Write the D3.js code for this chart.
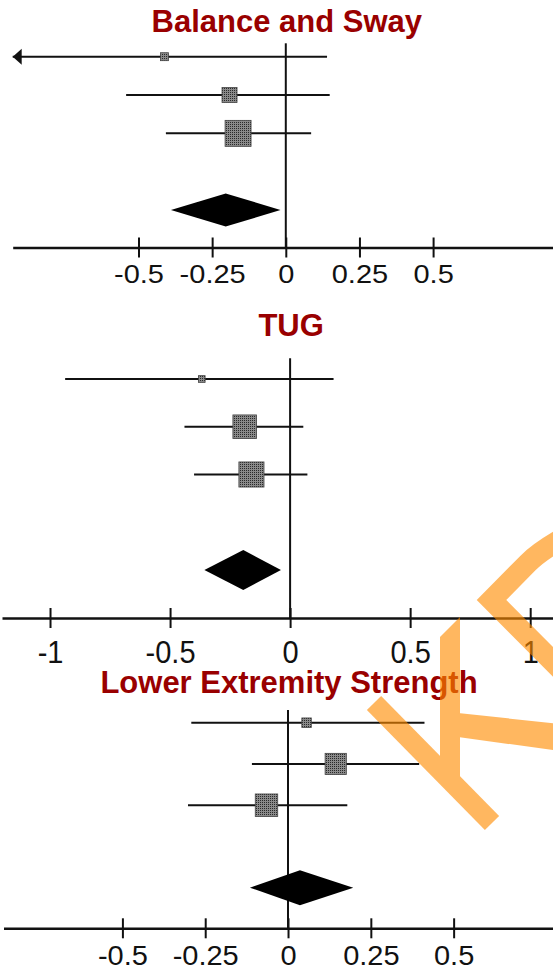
<html>
<title>Forest plots</title>
<script src="https://d3js.org/d3.v7.min.js"></script>
<style>
body { margin: 0; background: #fff; }
svg { display: block; }
text.title { font-family: 'Liberation Sans', Arial, sans-serif; font-weight: bold; font-size: 31px; fill: #990000; text-anchor: middle; }
.axis text { font-family: 'Liberation Sans', Arial, sans-serif; font-size: 29px; fill: #111; }
.axis path, .axis line { stroke: #111; }
</style>
<body>
<div id="chart"></div>
<script>
// panel titles
var titles = ["Balance and Sway", "TUG", "Lower Extremity Strength"];

// Balance and Sway
var balanceEst = [-0.412, -0.191, -0.162];
var balanceLo = [-1.3, -0.542, -0.407];
var balanceHi = [0.14, 0.149, 0.086];
var balanceWeight = [7, 25, 75];
var balancePooled = [-0.39, -0.204, -0.018]; // lo, est, hi

// TUG
var tugEst = [-0.368, -0.189, -0.161];
var tugLo = [-0.937, -0.44, -0.4];
var tugHi = [0.181, 0.055, 0.072];
var tugWeight = [5, 62, 70];
var tugPooled = [-0.357, -0.195, -0.038];

// Lower Extremity Strength
var lesEst = [0.056, 0.144, -0.065];
var lesLo = [-0.292, -0.109, -0.302];
var lesHi = [0.412, 0.396, 0.179];
var lesWeight = [10, 50, 56];
var lesPooled = [-0.115, 0.036, 0.197];

// ticks
var ticksQuarter = [-0.5, -0.25, 0, 0.25, 0.5];
var labelsQuarter = ["-0.5", "-0.25", "0", "0.25", "0.5"];
var ticksHalf = [-1, -0.5, 0, 0.5, 1];
var labelsHalf = ["-1", "-0.5", "0", "0.5", "1"];

var width = 553, height = 970;

var svg = d3.select("#chart").append("svg").attr("width", width).attr("height", height);

var defs = svg.append("defs");
var pat = defs.append("pattern").attr("id", "stip").attr("width", 2).attr("height", 2)
	.attr("patternUnits", "userSpaceOnUse");
pat.append("rect").attr("width", 2).attr("height", 2).attr("fill", "#8a8a8a");
pat.append("rect").attr("width", 1).attr("height", 1).attr("fill", "#2a2a2a");

var sizeScale = d3.scaleSqrt().domain([0, 100]).range([0, 30]);

// layout for each panel
var panels = [
	{ title: titles[0], est: balanceEst, lo: balanceLo, hi: balanceHi, w: balanceWeight, pooled: balancePooled,
	  ticks: ticksQuarter, labels: labelsQuarter,
	  domain: [-0.927, 0.907], range: [12.7, 553],
	  titleY: 31.7, zeroTop: 43.3, rows: [56.7, 210], axisY: 247.5, labelY: 283.3, labelK: 0.88, dH: 16.5 },
	{ title: titles[1], est: tugEst, lo: tugLo, hi: tugHi, w: tugWeight, pooled: tugPooled,
	  ticks: ticksHalf, labels: labelsHalf,
	  domain: [-1.2, 1.095], range: [2, 553],
	  titleY: 335.7, zeroTop: 358.3, rows: [379, 570], axisY: 618, labelY: 663, labelK: 1.08, dH: 20 },
	{ title: titles[2], est: lesEst, lo: lesLo, hi: lesHi, w: lesWeight, pooled: lesPooled,
	  ticks: ticksQuarter, labels: labelsQuarter,
	  domain: [-0.859, 0.8], range: [3.5, 553],
	  titleY: 693.3, zeroTop: 710, rows: [722.7, 887.7], axisY: 928.3, labelY: 965, labelK: 0.96, dH: 17.5 }
];

panels.forEach(function (p) {
	var g = svg.append("g");
	var x = d3.scaleLinear().domain(p.domain).range(p.range);
	var y = d3.scaleLinear().domain([0, 4]).range(p.rows);

	// axis
	var xAxis = d3.axisBottom(x).tickValues(p.ticks).tickSizeOuter(0).tickSizeInner(10)
		.tickFormat(function (d, i) { return p.labels[i]; });
	var ax = g.append("g").attr("class", "axis").attr("transform", "translate(0," + p.axisY + ")").call(xAxis);
	ax.select(".domain").attr("stroke-width", 2.5);
	ax.selectAll(".tick line").attr("y1", -10).attr("y2", 10).attr("stroke-width", 2);
	ax.selectAll(".tick text")
		.attr("dy", 0)
		.attr("y", (p.labelY - p.axisY) / p.labelK)
		.attr("transform", "scale(1," + p.labelK + ")");

	// title
	g.append("text").attr("class", "title").attr("x", x(0) + 1).attr("y", p.titleY).text(p.title);

	// zero line
	g.append("line").attr("x1", x(0)).attr("x2", x(0)).attr("y1", p.zeroTop).attr("y2", p.axisY)
		.attr("stroke", "#111").attr("stroke-width", 2);

	// study rows
	p.est.forEach(function (e, i) {
		var x0 = Math.max(x(p.lo[i]), p.range[0]);
		g.append("line").attr("x1", x0).attr("x2", x(p.hi[i]))
			.attr("y1", y(i)).attr("y2", y(i))
			.attr("stroke", "#111").attr("stroke-width", 2);
		if (x(p.lo[i]) < p.range[0]) {
			g.append("path")
				.attr("d", "M" + x0 + "," + y(i) + "l9,-8l0,16z")
				.attr("fill", "#111");
		}
		var s = sizeScale(p.w[i]);
		g.append("rect").attr("x", x(e) - s / 2).attr("y", y(i) - s / 2)
			.attr("width", s).attr("height", s)
			.attr("fill", "url(#stip)").attr("stroke", "#444").attr("stroke-width", 0.8);
	});

	// pooled diamond
	var yd = y(4);
	var pts = [[x(p.pooled[0]), yd], [x(p.pooled[1]), yd - p.dH], [x(p.pooled[2]), yd], [x(p.pooled[1]), yd + p.dH]];
	g.append("path").attr("d", d3.line()(pts) + "Z").attr("fill", "#000");
});

// watermark
var wm = svg.append("g").attr("opacity", 0.62).attr("fill", "#ff8c00").attr("stroke", "#ff8c00");
wm.append("line").attr("x1", 374).attr("y1", 703).attr("x2", 492).attr("y2", 823)
	.attr("stroke-width", 20).attr("fill", "none");
wm.append("path").attr("stroke", "none")
	.attr("d", "M440,637L460,617L460,778L440,760Z");
wm.append("path").attr("stroke", "none")
	.attr("d", "M458,713L560,724L560,751L458,737Z");
wm.append("path").attr("fill", "none").attr("stroke-width", 21).attr("stroke-linejoin", "miter")
	.attr("d", "M575,684L491.5,600L528,563Q540,551 565,537");
</script>
</body>
</html>
